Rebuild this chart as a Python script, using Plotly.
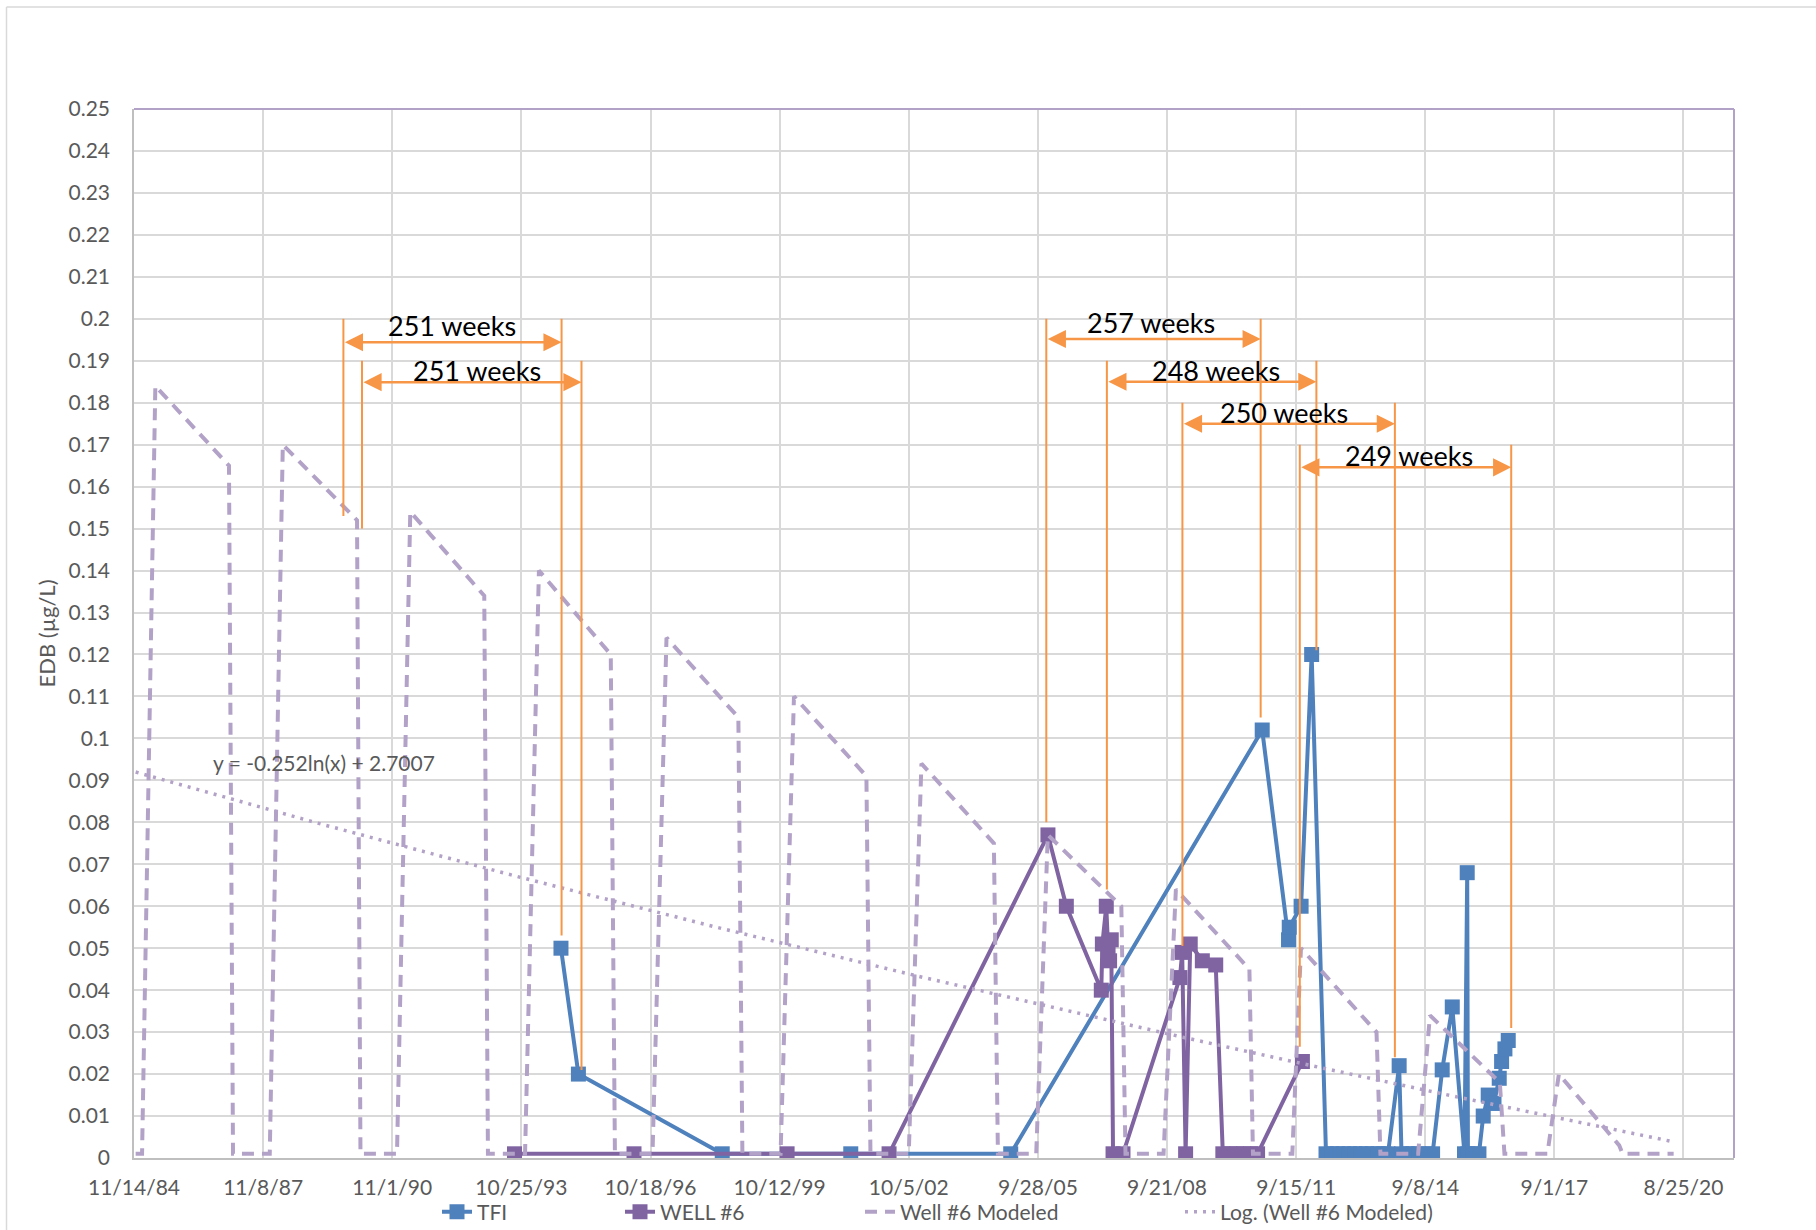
import math
import pandas as pd
import plotly.graph_objects as go

# ---------------- data ----------------
tfi_dates = ["1994-09-24", "1995-02-18", "1998-06-15", "2001-06-03", "2005-02-11",
             "2010-12-03", "2011-07-13", "2011-07-19", "2011-10-27", "2012-01-24",
             "2012-05-24", "2012-07-12", "2012-08-30", "2012-10-18", "2012-12-06",
             "2013-01-23", "2013-03-13", "2013-05-01", "2013-06-19", "2013-08-07",
             "2013-09-25", "2013-10-29", "2014-01-31", "2014-02-20", "2014-04-08",
             "2014-05-27", "2014-07-15", "2014-09-02", "2014-11-09", "2015-01-29",
             "2015-04-24", "2015-08-05", "2015-08-28", "2015-09-03", "2015-10-17",
             "2015-12-05", "2016-01-10", "2016-02-21", "2016-04-10", "2016-05-24",
             "2016-06-13", "2016-07-11", "2016-08-08"]
tfi_values = [0.050, 0.020, 0.001, 0.001, 0.001,
              0.102, 0.052, 0.055, 0.060, 0.120,
              0.001, 0.001, 0.001, 0.001, 0.001,
              0.001, 0.001, 0.001, 0.001, 0.001,
              0.001, 0.001, 0.022, 0.001, 0.001,
              0.001, 0.001, 0.001, 0.001, 0.021,
              0.036, 0.001, 0.068, 0.001, 0.001,
              0.001, 0.010, 0.015, 0.013, 0.019,
              0.023, 0.026, 0.028]

well6_dates = ["1993-08-28", "1996-06-01", "1999-12-14", "2002-04-22", "2005-12-22",
               "2006-05-26", "2007-03-17", "2007-03-26", "2007-04-28", "2007-05-13",
               "2007-05-26", "2007-06-09", "2007-06-24", "2007-09-16", "2009-01-08",
               "2009-01-27", "2009-02-25", "2009-04-05", "2009-07-16", "2009-11-06",
               "2010-01-05", "2010-03-04", "2010-05-02", "2010-06-30", "2010-08-28",
               "2010-10-25", "2011-11-07"]
well6_values = [0.001, 0.001, 0.001, 0.001, 0.077,
                0.060, 0.040, 0.051, 0.060, 0.050,
                0.047, 0.052, 0.001, 0.001, 0.043,
                0.049, 0.001, 0.051, 0.047, 0.046,
                0.001, 0.001, 0.001, 0.001, 0.001,
                0.001, 0.023]

modeled_dates = ["1984-11-28", "1985-01-21", "1985-05-13", "1987-01-24", "1987-02-27",
                 "1988-01-03", "1988-04-22", "1990-01-08", "1990-02-06",
                 "1990-12-11", "1991-04-02", "1992-12-16", "1993-01-16",
                 "1993-11-25", "1994-03-22", "1995-11-18", "1995-12-23",
                 "1996-11-04", "1997-03-02", "1998-10-29", "1998-12-02",
                 "1999-10-20", "2000-02-10", "2001-10-13", "2001-11-16",
                 "2002-10-05", "2003-01-20", "2004-09-22", "2004-10-26",
                 "2005-09-14", "2005-12-21", "2007-09-02", "2007-10-07",
                 "2008-08-23", "2008-12-05", "2010-08-17", "2010-09-16",
                 "2011-08-14", "2011-10-26", "2013-07-24", "2013-08-26",
                 "2014-07-10", "2014-10-18", "2016-05-29", "2016-07-07",
                 "2017-07-04", "2017-10-09", "2019-03-02", "2019-03-31",
                 "2020-06-03"]
modeled_values = [0.001, 0.001, 0.184, 0.165, 0.001,
                  0.001, 0.170, 0.152, 0.001,
                  0.001, 0.154, 0.134, 0.001,
                  0.001, 0.140, 0.120, 0.001,
                  0.001, 0.124, 0.105, 0.001,
                  0.001, 0.110, 0.091, 0.001,
                  0.001, 0.094, 0.075, 0.001,
                  0.001, 0.077, 0.060, 0.001,
                  0.001, 0.064, 0.045, 0.001,
                  0.001, 0.050, 0.030, 0.001,
                  0.001, 0.034, 0.018, 0.001,
                  0.001, 0.020, 0.003, 0.001,
                  0.001]

# logarithmic trendline of the modeled series (x = Excel date serial)
trend_slope = -0.25224      # displayed rounded as -0.252
trend_intercept = 2.7007
trend_label = "y = -0.252ln(x) + 2.7007"

x_tick_dates = ["1984-11-14", "1987-11-08", "1990-11-01", "1993-10-25", "1996-10-18",
                "1999-10-12", "2002-10-05", "2005-09-28", "2008-09-21", "2011-09-15",
                "2014-09-08", "2017-09-01", "2020-08-25"]
x_tick_labels = ["11/14/84", "11/8/87", "11/1/90", "10/25/93", "10/18/96",
                 "10/12/99", "10/5/02", "9/28/05", "9/21/08", "9/15/11",
                 "9/8/14", "9/1/17", "8/25/20"]
y_tick_values = [0.0, 0.01, 0.02, 0.03, 0.04, 0.05, 0.06, 0.07, 0.08, 0.09, 0.10,
                 0.11, 0.12, 0.13, 0.14, 0.15, 0.16, 0.17, 0.18, 0.19, 0.20,
                 0.21, 0.22, 0.23, 0.24, 0.25]
y_tick_labels = ["0", "0.01", "0.02", "0.03", "0.04", "0.05", "0.06", "0.07", "0.08",
                 "0.09", "0.1", "0.11", "0.12", "0.13", "0.14", "0.15", "0.16", "0.17",
                 "0.18", "0.19", "0.2", "0.21", "0.22", "0.23", "0.24", "0.25"]

# interval brackets (orange)
interval_labels = ["251 weeks", "251 weeks", "257 weeks", "248 weeks", "250 weeks", "249 weeks"]
interval_starts = ["1989-09-15", "1990-02-19", "2005-12-08", "2007-05-03", "2009-01-29", "2011-10-16"]
interval_ends = ["1994-09-29", "1995-03-16", "2010-11-20", "2012-03-04", "2013-12-26", "2016-09-02"]
interval_arrow_y = [0.1944, 0.1849, 0.1952, 0.1850, 0.1750, 0.1646]
interval_top_y = [0.200, 0.190, 0.200, 0.190, 0.180, 0.170]
interval_start_low_y = [0.153, 0.150, 0.080, 0.064, 0.0505, 0.0265]
interval_end_low_y = [0.053, 0.021, 0.105, 0.121, 0.024, 0.031]
interval_label_xshift = [0, 5, -2, 4, -5, 3]     # px nudges of the labels
interval_label_yshift = [-2, -7, -2, -7, -7, -7]

# ---------------- styling ----------------
FONT = "Lato, 'Open Sans', sans-serif"
GREY_TXT = "#595959"
BLUE = "#4F81BD"
PURPLE = "#8064A2"
LAVENDER = "#B3A2C7"
ORANGE = "#F79646"
GRID = "#D9D9D9"

W, H = 1816, 1230
L, R, T, B = 134, 82, 109, 72
PW, PH = W - L - R, H - T - B

fig = go.Figure()

fig.add_trace(go.Scatter(
    x=tfi_dates, y=tfi_values, name="TFI", mode="lines+markers",
    line=dict(color=BLUE, width=4),
    marker=dict(symbol="square", size=15, color=BLUE, line=dict(width=0)),
    legend="legend"))

fig.add_trace(go.Scatter(
    x=well6_dates, y=well6_values, name="WELL #6", mode="lines+markers",
    line=dict(color=PURPLE, width=4),
    marker=dict(symbol="square", size=15, color=PURPLE, line=dict(width=0)),
    legend="legend2"))

fig.add_trace(go.Scatter(
    x=modeled_dates, y=modeled_values, name="Well #6 Modeled", mode="lines",
    line=dict(color=LAVENDER, width=4, dash="12px,8px"),
    legend="legend3"))

# trendline from the first to the last modeled date
excel_epoch = pd.Timestamp("1899-12-30")
t0 = pd.Timestamp(modeled_dates[0])
t1 = pd.Timestamp(modeled_dates[-1])
trend_x = pd.date_range(t0, t1, periods=300)
trend_y = [trend_slope * math.log((d - excel_epoch).days) + trend_intercept for d in trend_x]
fig.add_trace(go.Scatter(
    x=trend_x, y=trend_y, name="Log. (Well #6 Modeled)", mode="lines",
    line=dict(color=LAVENDER, width=3.5, dash="3px,6px"),
    legend="legend4"))

shapes = []
annotations = []

# orange interval brackets
for lab, s, e, ay, ty, sl, el, dx, dy in zip(interval_labels, interval_starts, interval_ends,
                                              interval_arrow_y, interval_top_y,
                                              interval_start_low_y, interval_end_low_y,
                                              interval_label_xshift, interval_label_yshift):
    shapes.append(dict(type="line", xref="x", yref="y", x0=s, x1=s, y0=sl, y1=ty,
                       line=dict(color=ORANGE, width=2)))
    shapes.append(dict(type="line", xref="x", yref="y", x0=e, x1=e, y0=el, y1=ty,
                       line=dict(color=ORANGE, width=2)))
    annotations.append(dict(x=e, y=ay, ax=s, ay=ay, xref="x", yref="y", axref="x", ayref="y",
                            text="", showarrow=True, arrowside="end+start",
                            arrowhead=2, startarrowhead=2, arrowsize=1.45, startarrowsize=1.45,
                            arrowwidth=2.5, arrowcolor=ORANGE, standoff=0, startstandoff=0))
    mid = pd.Timestamp(s) + (pd.Timestamp(e) - pd.Timestamp(s)) / 2
    annotations.append(dict(x=mid, y=ay, xref="x", yref="y", text=lab, showarrow=False,
                            yanchor="bottom", yshift=dy, xshift=dx,
                            font=dict(family=FONT, size=27, color="#000000")))

# plot-area top/right border (lavender)
shapes.append(dict(type="line", xref="paper", yref="paper", x0=0, x1=1, y0=1, y1=1,
                   line=dict(color=LAVENDER, width=2)))
shapes.append(dict(type="line", xref="paper", yref="paper", x0=1, x1=1, y0=0, y1=1,
                   line=dict(color=LAVENDER, width=2)))
# outer chart frame (left & top)
fx = (6.5 - L) / PW
fy = 1 + (T - 7) / PH
shapes.append(dict(type="line", xref="paper", yref="paper", x0=fx, x1=fx, y0=fy, y1=-0.2,
                   line=dict(color=GRID, width=1.5)))
shapes.append(dict(type="line", xref="paper", yref="paper", x0=fx, x1=1.2, y0=fy, y1=fy,
                   line=dict(color=GRID, width=1.5)))

# trendline equation
annotations.append(dict(x=(211 - L) / PW, y=(T + PH - 762) / PH, xref="paper", yref="paper",
                        xanchor="left", yanchor="middle", text=trend_label, showarrow=False,
                        font=dict(family=FONT, size=21, color=GREY_TXT)))
# y axis title
annotations.append(dict(x=(46 - L) / PW, y=0.5, xref="paper", yref="paper",
                        xanchor="center", yanchor="middle", text="EDB (µg/L)", textangle=-90,
                        showarrow=False, font=dict(family=FONT, size=22, color=GREY_TXT)))

legend_common = dict(orientation="h", yanchor="middle", y=(T + PH - 1212) / PH,
                     xanchor="left", bgcolor="rgba(0,0,0,0)", borderwidth=0,
                     font=dict(family=FONT, size=21, color=GREY_TXT))
text_x = [477, 660, 900, 1220]
legs = {}
for i, tx in enumerate(text_x):
    key = "legend" if i == 0 else f"legend{i+1}"
    legs[key] = dict(legend_common, x=(tx - 40 - L) / PW)

fig.update_layout(
    width=W, height=H,
    margin=dict(l=L, r=R, t=T, b=B, autoexpand=False),
    paper_bgcolor="white", plot_bgcolor="white",
    font=dict(family=FONT, size=21, color=GREY_TXT),
    shapes=shapes, annotations=annotations,
    showlegend=True,
    **legs,
)

fig.update_xaxes(type="date", range=["1984-11-14", "2021-10-25"],
                 tickmode="array", tickvals=x_tick_dates, ticktext=x_tick_labels,
                 showgrid=True, gridcolor=GRID, gridwidth=1.5,
                 showline=True, linecolor="#BFBFBF", linewidth=1.5,
                 zeroline=False, ticks="", ticklabelstandoff=10,
                 tickfont=dict(family=FONT, size=21, color=GREY_TXT))
fig.update_yaxes(range=[0, 0.25], tickmode="array", tickvals=y_tick_values,
                 ticktext=y_tick_labels,
                 showgrid=True, gridcolor=GRID, gridwidth=1.5,
                 showline=True, linecolor="#BFBFBF", linewidth=1.5,
                 zeroline=False, ticks="", ticklabelstandoff=18,
                 tickfont=dict(family=FONT, size=21, color=GREY_TXT))

fig.write_html("out.html", config={"displayModeBar": False},
               post_script="document.body.style.margin='0';")
